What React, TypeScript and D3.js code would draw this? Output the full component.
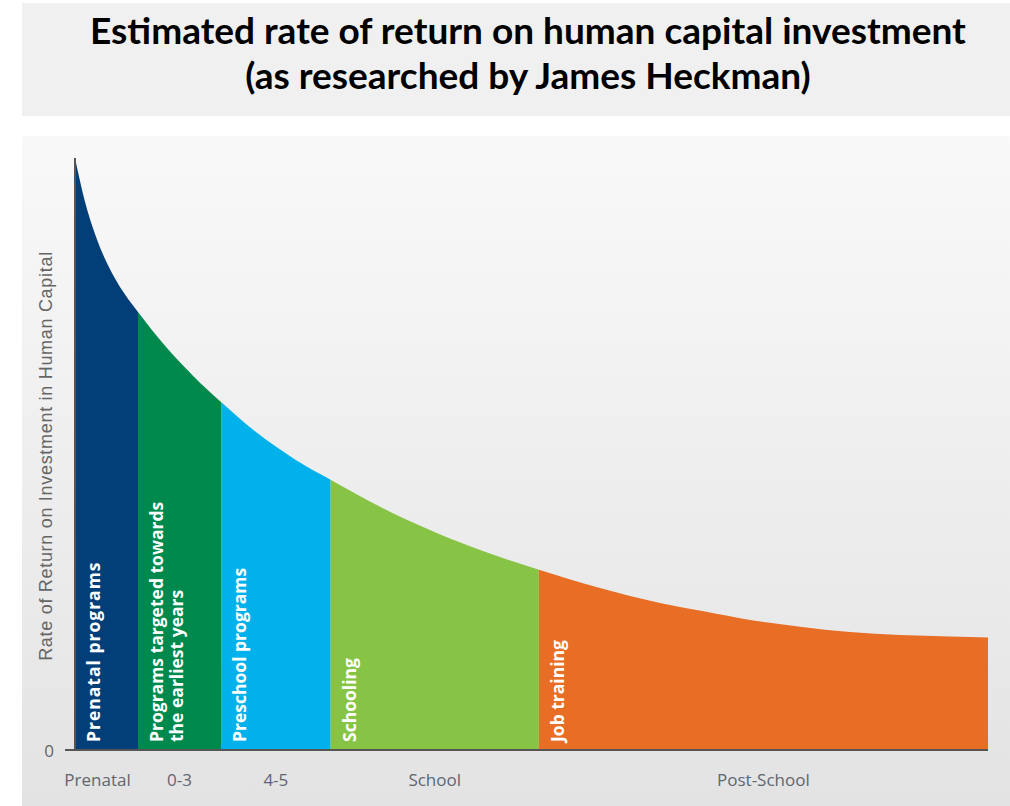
import React from "react";
import * as d3 from "d3";

const W = 1010;
const H = 806;

const titleLines = [
  "Estimated rate of return on human capital investment",
  "(as researched by James Heckman)",
];
const yAxisTitle = "Rate of Return on Investment in Human Capital";

// life-stage axis (abstract units 0..100)
const stageNames = ["Prenatal", "0-3", "4-5", "School", "Post-School"];
const stageBounds = [0, 6.9, 16.0, 28.0, 50.8, 100];
const stageColors = ["#023f78", "#00894c", "#00b1ec", "#87c446", "#e86d25"];
const programLabels = [
  ["Prenatal programs"],
  ["Programs targeted towards", "the earliest years"],
  ["Preschool programs"],
  ["Schooling"],
  ["Job training"],
];

// curve of rate of return (0..100 scale)
const curveX = [0, 1.1, 2.19, 3.29, 4.38, 5.48, 6.9, 9.86, 12.92, 15.99, 20.04, 24.1, 28.04, 33.73, 39.43, 45.13, 50.82, 57.5, 64.07, 69.0, 73.93, 79.41, 84.88, 90.36, 95.84, 100];
const curveY = [100, 92.57, 87.16, 82.94, 79.65, 76.94, 73.99, 68.28, 63.23, 58.78, 53.46, 49.09, 45.61, 40.83, 36.79, 33.36, 30.46, 27.36, 24.83, 23.38, 21.96, 20.84, 19.93, 19.43, 19.17, 19.0];
const yTicks = [0];

export default function App() {
  const x = d3.scaleLinear().domain([0, 100]).range([75, 988]);
  const y = d3.scaleLinear().domain([0, 100]).range([750, 158]);
  const pts = curveX.map((v, i) => [v, curveY[i]] as [number, number]);
  const area = d3
    .area<[number, number]>()
    .x((d) => x(d[0]))
    .y0(y(0))
    .y1((d) => y(d[1]))
    .curve(d3.curveMonotoneX);
  const areaPath = area(pts) || "";
  const labelFont = "'Open Sans', 'DejaVu Sans', sans-serif";
  const axisColor = "#5f6670";

  return (
    <div style={{ position: "absolute", left: 0, top: 0 }}>
      <svg width={W} height={H} style={{ display: "block" }}>
        <defs>
          <linearGradient id="panelGrad" x1="0" y1="0" x2="0" y2="1">
            <stop offset="0" stopColor="#f9f9f9" />
            <stop offset="1" stopColor="#e3e3e3" />
          </linearGradient>
          {stageNames.map((_, i) => (
            <clipPath id={`clip${i}`} key={i}>
              <rect
                x={x(stageBounds[i])}
                y={0}
                width={x(stageBounds[i + 1]) - x(stageBounds[i])}
                height={H}
              />
            </clipPath>
          ))}
        </defs>
        <rect x={0} y={0} width={W} height={H} fill="#ffffff" />
        <rect x={22} y={3} width={W - 22} height={113} fill="#f0f0f0" />
        {titleLines.map((t, i) => (
          <text
            key={i}
            x={528}
            y={44 + i * 45}
            textAnchor="middle"
            fontFamily="Lato, 'Open Sans', sans-serif"
            fontWeight={700}
            fontSize={37}
            fill="#000"
          >
            {t}
          </text>
        ))}
        <rect x={22} y={136} width={W - 22} height={H - 136} fill="url(#panelGrad)" />

        {stageNames.map((_, i) => (
          <path key={i} d={areaPath} fill={stageColors[i]} clipPath={`url(#clip${i})`} />
        ))}

        {programLabels.map((lines, i) => {
          const x0 = x(stageBounds[i]);
          return lines.map((ln, j) => (
            <text
              key={`${i}-${j}`}
              transform={`translate(${x0 + 18 + j * 20},742) rotate(-90)`}
              dominantBaseline="central"
              fontFamily={labelFont}
              fontWeight={700}
              fontSize={17.5}
              letterSpacing={i === 0 ? 1 : 0}
              fill="#ffffff"
            >
              {ln}
            </text>
          ));
        })}

        {/* axes */}
        <line x1={75} x2={75} y1={y(100)} y2={y(0)} stroke="#555" strokeWidth={2} />
        <line x1={65} x2={x(100)} y1={y(0)} y2={y(0)} stroke="#555" strokeWidth={2} />
        {yTicks.map((t) => (
          <text
            key={t}
            x={49}
            y={y(t)}
            textAnchor="middle"
            dominantBaseline="central"
            fontFamily={labelFont}
            fontSize={17}
            fill={axisColor}
          >
            {t}
          </text>
        ))}
        {stageNames.map((s, i) => {
          const c = (x(stageBounds[i]) + x(stageBounds[i + 1])) / 2;
          return (
            <text
              key={s}
              x={i === 0 ? c - 9 : c}
              y={779}
              textAnchor="middle"
              dominantBaseline="central"
              fontFamily={labelFont}
              fontSize={17}
              fill={axisColor}
            >
              {s}
            </text>
          );
        })}
        <text
          transform={`translate(46,456) rotate(-90)`}
          textAnchor="middle"
          dominantBaseline="central"
          fontFamily="'Liberation Sans', Arial, sans-serif"
          fontSize={18}
          letterSpacing={0.7}
          fill="#666"
        >
          {yAxisTitle}
        </text>
      </svg>
    </div>
  );
}
